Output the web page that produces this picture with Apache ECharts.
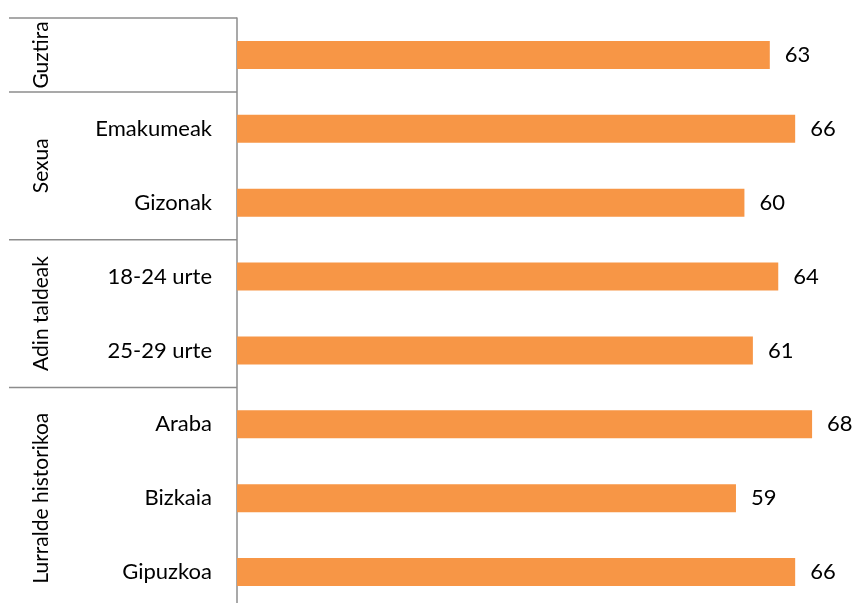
<!DOCTYPE html>
<html>
<head>
<meta charset="utf-8">
<script src="https://cdn.jsdelivr.net/npm/echarts@6/dist/echarts.min.js"></script>
<style>
  html, body { margin: 0; padding: 0; background: #fff; }
  #main { width: 853px; height: 603px; }
</style>
</head>
<body>
<div id="main"></div>
<script>
// datuak
var categories = ['', 'Emakumeak', 'Gizonak', '18-24 urte', '25-29 urte', 'Araba', 'Bizkaia', 'Gipuzkoa'];
var values = [63, 66, 60, 64, 61, 68, 59, 66];
var groups = ['Guztira', 'Sexua', 'Adin taldeak', 'Lurralde historikoa'];
var groupSizes = [1, 2, 2, 3];

var fontFam = 'Lato, "Liberation Sans", sans-serif';
var lineColor = '#8c8c8c';

var chart = echarts.init(document.getElementById('main'));

var option = {
    animation: false,
    grid: {
        left: 237,
        top: 18,
        width: 592,
        height: 591,
        outerBoundsMode: 'none'
    },
    xAxis: {
        type: 'value',
        min: 0,
        max: 70,
        show: false
    },
    yAxis: {
        type: 'category',
        inverse: true,
        data: categories,
        axisLine: { lineStyle: { color: lineColor, width: 1.5 } },
        axisTick: { show: false },
        axisLabel: {
            margin: 25,
            fontSize: 22,
            color: '#000',
            fontFamily: fontFam
        }
    },
    series: [{
        type: 'bar',
        data: values,
        barWidth: 28,
        itemStyle: { color: '#F79646' },
        label: {
            show: true,
            position: 'right',
            distance: 15,
            fontSize: 22,
            color: '#000',
            fontFamily: fontFam
        }
    }]
};

chart.setOption(option);

// taldeen etiketak eta banaketa lerroak
function drawGroups() {
    var y0 = chart.convertToPixel({ yAxisIndex: 0 }, 0);
    var y1 = chart.convertToPixel({ yAxisIndex: 0 }, 1);
    var band = y1 - y0;
    var axisX = chart.convertToPixel({ xAxisIndex: 0 }, 0);
    var elements = [];
    var start = 0;
    for (var i = 0; i < groups.length; i++) {
        var top = y0 + (start - 0.5) * band;
        var bottom = y0 + (start + groupSizes[i] - 0.5) * band;
        elements.push({
            type: 'line',
            shape: { x1: 9, y1: top, x2: axisX, y2: top },
            style: { stroke: lineColor, lineWidth: 1.5 }
        });
        elements.push({
            type: 'text',
            x: 41,
            y: (top + bottom) / 2,
            rotation: Math.PI / 2,
            style: {
                text: groups[i],
                fontSize: 21,
                fontFamily: fontFam,
                fill: '#000',
                align: 'center',
                verticalAlign: 'middle'
            }
        });
        start += groupSizes[i];
    }
    chart.setOption({ graphic: elements });
}
drawGroups();
</script>
</body>
</html>
